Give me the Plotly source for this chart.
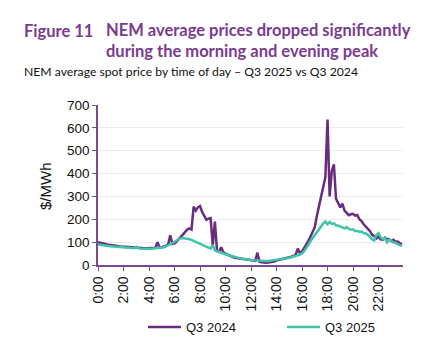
import plotly.graph_objects as go

# 10-minute intervals, 0:00 .. 23:50
time_hours = [i / 6 for i in range(144)]

q3_2024 = [
    100, 97, 95, 93, 91, 89,
    87, 86, 85, 84, 82, 81,
    80, 79, 78, 77, 77, 76,
    75, 75, 74, 74, 73, 73,
    73, 74, 74, 75, 100, 76,
    78, 80, 84, 90, 130, 92,
    95, 102, 112, 122, 132, 145,
    155, 160, 155, 255, 238, 252,
    258, 232, 212, 198, 203, 205,
    85, 190, 62, 58, 78, 55,
    50, 45, 40, 36, 33, 31,
    29, 27, 26, 25, 24, 23,
    22, 20, 18, 54, 14, 12,
    10, 10, 11, 12, 13, 15,
    20, 22, 24, 26, 28, 30,
    33, 36, 40, 44, 72, 52,
    58, 72, 88, 105, 125, 148,
    165, 215, 258, 300, 335, 385,
    636, 300, 410, 440, 290, 272,
    252, 268, 238, 228, 218, 222,
    224, 216, 219, 200, 192, 178,
    168, 155, 148, 132, 126, 116,
    124, 112, 110, 120, 113, 114,
    104, 110, 102, 103, 95, 90,
]

q3_2025 = [
    90, 88, 86, 85, 84, 83,
    82, 81, 80, 79, 78, 77,
    76, 75, 75, 74, 74, 73,
    80, 73, 72, 71, 71, 71,
    71, 71, 72, 72, 73, 74,
    76, 78, 82, 86, 90, 95,
    102, 108, 113, 117, 118, 117,
    115, 113, 110, 106, 102, 98,
    95, 91, 86, 82, 77, 72,
    88, 64, 60, 56, 52, 50,
    47, 44, 41, 38, 35, 33,
    31, 29, 27, 25, 24, 23,
    22, 21, 20, 19, 18, 17,
    17, 17, 18, 19, 20, 22,
    23, 24, 25, 27, 28, 30,
    32, 34, 36, 39, 42, 46,
    50, 60, 72, 88, 105, 118,
    130, 145, 160, 172, 182, 190,
    178, 188, 180, 182, 174, 172,
    168, 165, 160, 166, 158, 155,
    156, 148, 150, 145, 146, 140,
    138, 132, 120, 112, 108, 132,
    139, 122, 112, 119, 99, 112,
    106, 98, 97, 90, 88, 82,
]

tick_vals = list(range(0, 24, 2))
tick_text = [f"{h}:00" for h in tick_vals]
y_ticks = list(range(0, 701, 100))

PURPLE = "#6a2c7e"
TEAL = "#3fc4a8"
AXIS = "#7a4a8c"
TITLE_C = "#7b3a8e"

OFF = 8  # page body margin
W, H = 438 - OFF, 362 - OFF
ML = 98 - OFF
MT = 105 - OFF
MR = 438 - 403
MB = 362 - 265
pw = W - ML - MR
ph = H - MT - MB


def px(x):
    return (x - OFF - ML) / pw


def py(y):
    return (H - MB - (y - OFF)) / ph


fig = go.Figure()
fig.add_trace(go.Scatter(x=time_hours, y=q3_2024, mode="lines", name="Q3 2024",
                         line=dict(color=PURPLE, width=2.5)))
fig.add_trace(go.Scatter(x=time_hours, y=q3_2025, mode="lines", name="Q3 2025",
                         line=dict(color=TEAL, width=2.5)))

fig.update_layout(
    width=W, height=H,
    margin=dict(l=ML, r=MR, t=MT, b=MB, autoexpand=False),
    paper_bgcolor="white", plot_bgcolor="white",
    font=dict(family="Liberation Sans", color="#111111"),
    showlegend=True,
    legend=dict(orientation="h", x=px(143), xanchor="left", y=py(327), yanchor="middle",
                font=dict(size=13), itemwidth=33, entrywidth=91, entrywidthmode="pixels",
                traceorder="normal", bgcolor="rgba(0,0,0,0)"),
    xaxis=dict(range=[0, 23.92], tickmode="array", tickvals=tick_vals, ticktext=tick_text,
               tickangle=-90, showgrid=False, showline=True, linecolor=AXIS, linewidth=1.5,
               ticks="outside", ticklen=4, tickcolor=AXIS, tickfont=dict(size=14),
               zeroline=False, automargin=False),
    yaxis=dict(range=[0, 700], tickvals=y_ticks, showgrid=True, gridcolor="#ececec", gridwidth=1,
               showline=True, linecolor=AXIS, linewidth=1.5, ticks="outside", ticklen=4,
               tickcolor=AXIS, tickfont=dict(size=13.5), zeroline=False, automargin=False),
)

fig.add_annotation(text="$/MWh", x=px(45), y=py(186), xref="paper", yref="paper",
                   textangle=-90, showarrow=False, xanchor="center", yanchor="middle",
                   font=dict(family="Liberation Sans", size=15, color="#111111"))
fig.add_annotation(text="<b>Figure 11</b>", x=px(22), y=py(31), xref="paper", yref="paper",
                   xanchor="left", yanchor="middle", showarrow=False,
                   font=dict(family="Lato", size=16.5, color=TITLE_C))
fig.add_annotation(text="<b>NEM average prices dropped significantly</b><br>"
                        "<b>during the morning and evening peak</b>",
                   x=px(104), y=py(40), xref="paper", yref="paper", align="left",
                   xanchor="left", yanchor="middle", showarrow=False,
                   font=dict(family="Lato", size=16.5, color=TITLE_C))
fig.add_annotation(text="NEM average spot price by time of day – Q3 2025 vs Q3 2024", x=px(22), y=py(71),
                   xref="paper", yref="paper", xanchor="left", yanchor="middle", showarrow=False,
                   font=dict(family="Lato", size=12.2, color="#111111"))

fig.write_html("out.html")
